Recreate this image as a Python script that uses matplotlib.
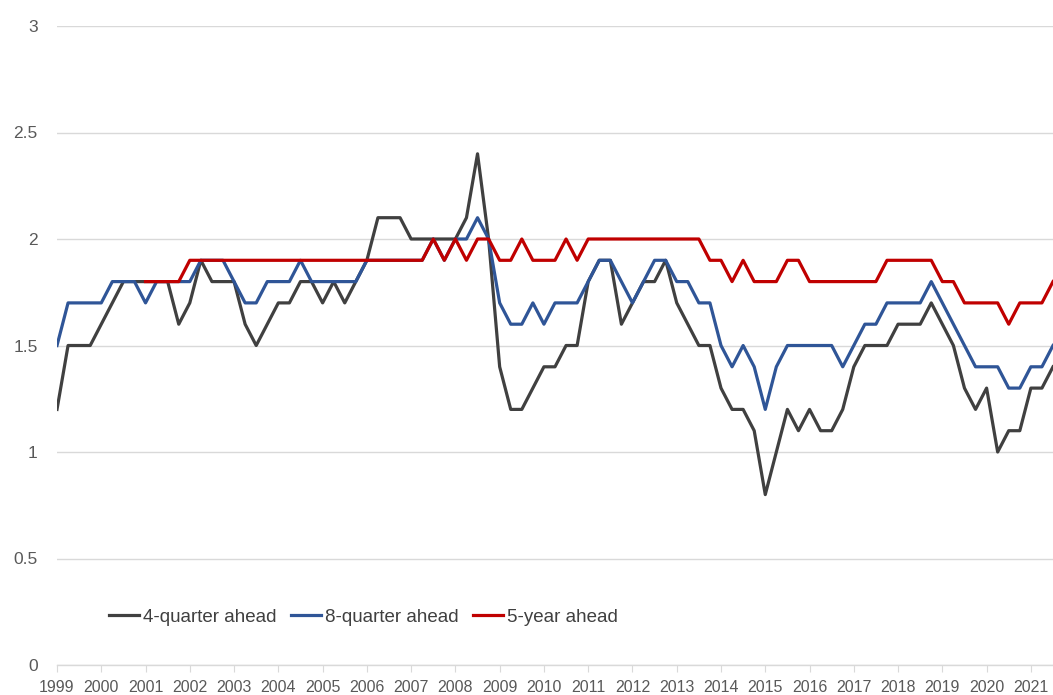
import numpy as np
import matplotlib
matplotlib.use("Agg")
import matplotlib.pyplot as plt

# quarterly survey values, 1999Q1 .. 2021Q3
start_year = 1999
four_quarter = [1.2, 1.5, 1.5, 1.5, 1.6, 1.7, 1.8, 1.8, 1.8, 1.8,
                1.8, 1.6, 1.7, 1.9, 1.8, 1.8, 1.8, 1.6, 1.5, 1.6,
                1.7, 1.7, 1.8, 1.8, 1.7, 1.8, 1.7, 1.8, 1.9, 2.1,
                2.1, 2.1, 2.0, 2.0, 2.0, 2.0, 2.0, 2.1, 2.4, 2.0,
                1.4, 1.2, 1.2, 1.3, 1.4, 1.4, 1.5, 1.5, 1.8, 1.9,
                1.9, 1.6, 1.7, 1.8, 1.8, 1.9, 1.7, 1.6, 1.5, 1.5,
                1.3, 1.2, 1.2, 1.1, 0.8, 1.0, 1.2, 1.1, 1.2, 1.1,
                1.1, 1.2, 1.4, 1.5, 1.5, 1.5, 1.6, 1.6, 1.6, 1.7,
                1.6, 1.5, 1.3, 1.2, 1.3, 1.0, 1.1, 1.1, 1.3, 1.3,
                1.4]
eight_quarter = [1.5, 1.7, 1.7, 1.7, 1.7, 1.8, 1.8, 1.8, 1.7, 1.8,
                 1.8, 1.8, 1.8, 1.9, 1.9, 1.9, 1.8, 1.7, 1.7, 1.8,
                 1.8, 1.8, 1.9, 1.8, 1.8, 1.8, 1.8, 1.8, 1.9, 1.9,
                 1.9, 1.9, 1.9, 1.9, 2.0, 1.9, 2.0, 2.0, 2.1, 2.0,
                 1.7, 1.6, 1.6, 1.7, 1.6, 1.7, 1.7, 1.7, 1.8, 1.9,
                 1.9, 1.8, 1.7, 1.8, 1.9, 1.9, 1.8, 1.8, 1.7, 1.7,
                 1.5, 1.4, 1.5, 1.4, 1.2, 1.4, 1.5, 1.5, 1.5, 1.5,
                 1.5, 1.4, 1.5, 1.6, 1.6, 1.7, 1.7, 1.7, 1.7, 1.8,
                 1.7, 1.6, 1.5, 1.4, 1.4, 1.4, 1.3, 1.3, 1.4, 1.4,
                 1.5]
# 5-year ahead starts in 2001Q1
five_year_start = 8
five_year = [1.8, 1.8, 1.8, 1.8,
             1.9, 1.9, 1.9, 1.9, 1.9, 1.9, 1.9, 1.9, 1.9, 1.9, 1.9,
             1.9, 1.9, 1.9, 1.9, 1.9, 1.9, 1.9, 1.9, 1.9, 1.9, 1.9,
             2.0, 1.9, 2.0, 1.9, 2.0, 2.0, 1.9, 1.9, 2.0, 1.9, 1.9, 1.9, 2.0, 1.9,
             2.0, 2.0, 2.0, 2.0, 2.0, 2.0, 2.0, 2.0, 2.0, 2.0, 2.0,
             1.9, 1.9, 1.8, 1.9, 1.8, 1.8, 1.8, 1.9, 1.9,
             1.8, 1.8, 1.8, 1.8, 1.8, 1.8, 1.8,
             1.9, 1.9, 1.9, 1.9, 1.9,
             1.8, 1.8, 1.7, 1.7, 1.7, 1.7, 1.6, 1.7, 1.7, 1.7, 1.8]
years = list(range(1999, 2022))
labels = ["4-quarter ahead", "8-quarter ahead", "5-year ahead"]

plt.rcParams['font.family'] = ['Liberation Sans', 'DejaVu Sans']

t = start_year + np.arange(len(four_quarter)) / 4
t5 = start_year + (five_year_start + np.arange(len(five_year))) / 4

fig = plt.figure(figsize=(10.53, 6.95), dpi=100)
ax = fig.add_axes([57 / 1053, 30 / 695, 1 - 57 / 1053, 639 / 695])

lw = 2.3
ax.plot(t, four_quarter, color='#404040', lw=lw, solid_joinstyle='round', label=labels[0])
ax.plot(t, eight_quarter, color='#2F5597', lw=lw, solid_joinstyle='round', label=labels[1])
ax.plot(t5, five_year, color='#C00000', lw=lw, solid_joinstyle='round', label=labels[2])

ax.set_xlim(start_year, t[-1])
ax.set_ylim(0, 3)
ax.set_yticks([0, 0.5, 1, 1.5, 2, 2.5, 3])
ax.set_yticklabels(['0', '0.5', '1', '1.5', '2', '2.5', '3'])
ax.set_xticks(years)
ax.set_xticklabels([str(y) for y in years])

ax.grid(axis='y', color='#D9D9D9', lw=1)
ax.set_axisbelow(True)
for s in ['top', 'right', 'left']:
    ax.spines[s].set_visible(False)
ax.spines['bottom'].set_color('#D9D9D9')
ax.spines['bottom'].set_linewidth(1)
ax.tick_params(axis='y', length=0, pad=14, labelsize=12.5, labelcolor='#595959')
ax.tick_params(axis='x', length=5, color='#D9D9D9', pad=6, labelsize=11.5, labelcolor='#595959')

leg = ax.legend(loc='center left', bbox_to_anchor=(0.052, 0.075), ncol=3, frameon=False,
                handlelength=1.6, handletextpad=0.2, columnspacing=0.8,
                fontsize=13.5, borderaxespad=0, borderpad=0)
for txt in leg.get_texts():
    txt.set_color('#404040')

fig.savefig('out.png', dpi=100)
